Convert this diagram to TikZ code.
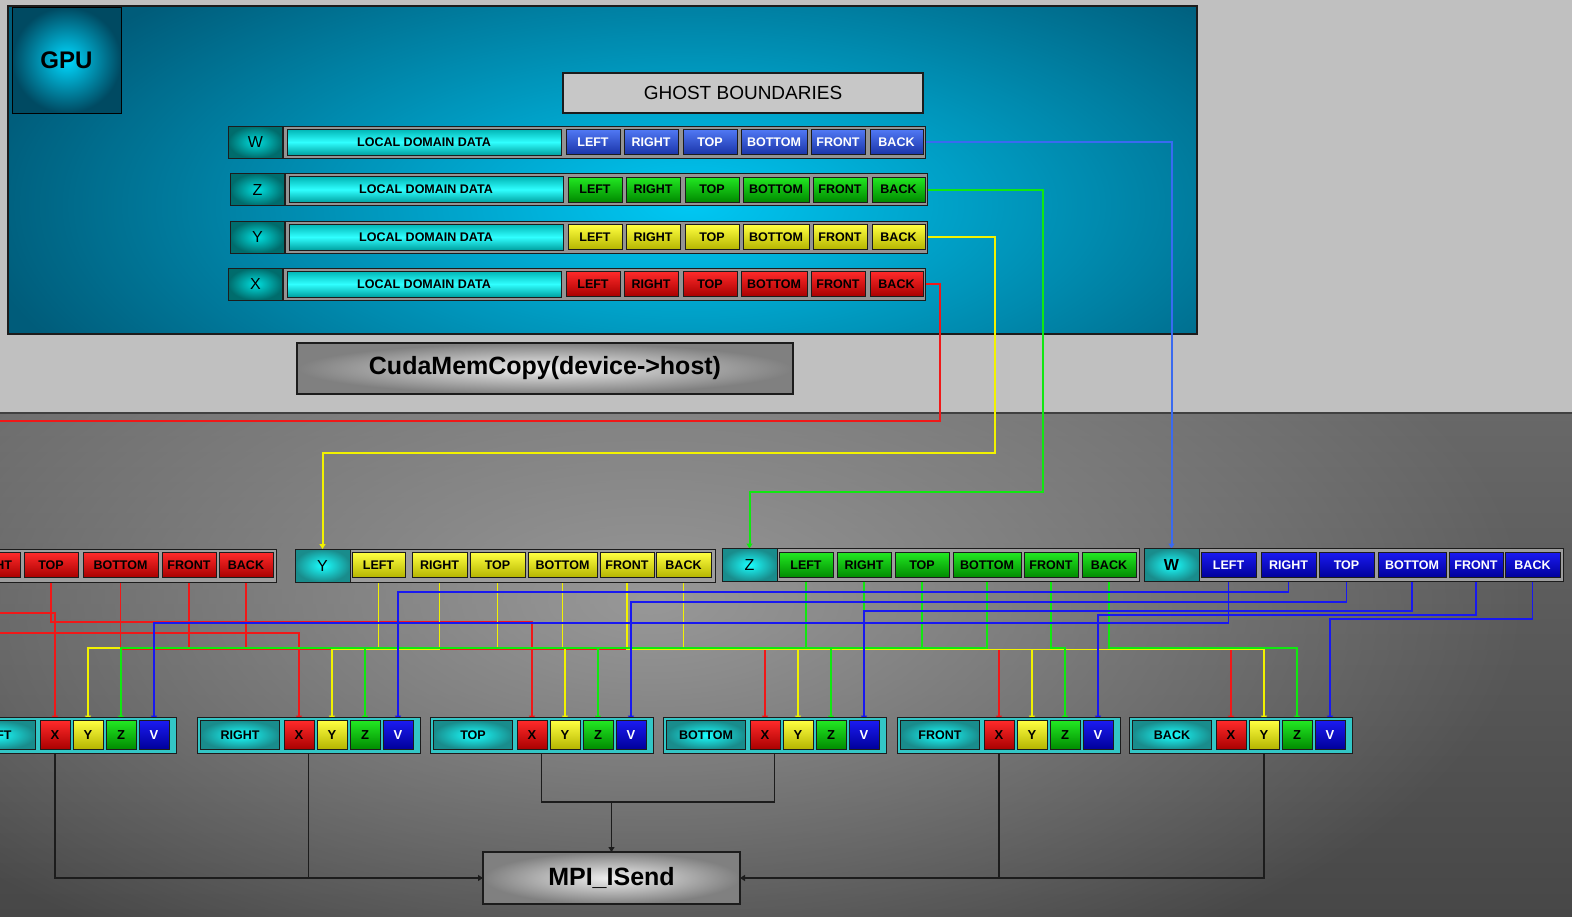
\documentclass[tikz,border=0pt]{standalone}
\usepackage{fontspec}
\setmainfont{Liberation Sans}
\usetikzlibrary{arrows.meta,fadings}

\definecolor{lightbg}{HTML}{C0C0C0}
\definecolor{darktop}{HTML}{686868}
\definecolor{darkbot}{HTML}{474747}
\definecolor{glowgray}{HTML}{989898}
\definecolor{panelbase}{HTML}{005C7A}
\definecolor{panelglow}{HTML}{00C8F4}
\definecolor{edge}{HTML}{1C1C1C}
\definecolor{tealfill}{HTML}{33C6C6}
% wire colours
\definecolor{wred}{HTML}{F01818}
\definecolor{wyel}{HTML}{F2F200}
\definecolor{wgrn}{HTML}{10E810}
\definecolor{wblu}{HTML}{1818F0}
\definecolor{wbluL}{HTML}{3A6AF0}
% button colours
\definecolor{redT}{HTML}{FF2A2A}\definecolor{redB}{HTML}{A80000}
\definecolor{yelT}{HTML}{FFFF40}\definecolor{yelB}{HTML}{B4B400}
\definecolor{grnT}{HTML}{22E822}\definecolor{grnB}{HTML}{008A00}
\definecolor{bluT}{HTML}{5078F4}\definecolor{bluB}{HTML}{1A34A8}
\definecolor{dbluT}{HTML}{1A1AF0}\definecolor{dbluB}{HTML}{00009A}
\definecolor{cyanT}{HTML}{00B4B4}\definecolor{cyanM}{HTML}{30FFFF}\definecolor{cyanB}{HTML}{00A0A0}

\tikzfading[name=softglow, inner color=transparent!0, outer color=transparent!100]

\pgfdeclarelayer{bg}
\pgfdeclarelayer{wires}
\pgfsetlayers{bg,wires,main}

\newcommand\fs[1]{\fontsize{#1}{#1}\selectfont}

\begin{document}
\begin{tikzpicture}[x=1pt,y=-1pt,
  every node/.style={inner sep=0pt, outer sep=0pt},
  btn/.style={draw=edge, line width=0.8pt, minimum height=25pt, font=\bfseries\fs{12.5}},
  rbtn/.style={btn, top color=redT, bottom color=redB, text=black},
  ybtn/.style={btn, top color=yelT, bottom color=yelB, text=black},
  gbtn/.style={btn, top color=grnT, bottom color=grnB, text=black},
  twbtn/.style={btn, top color=bluT, bottom color=bluB, text=white},
  mwbtn/.style={btn, top color=dbluT, bottom color=dbluB, text=white},
  ldd/.style={draw=edge, line width=0.8pt, top color=cyanT, bottom color=cyanB, middle color=cyanM, font=\bfseries\fs{12.5}},
  topbox/.style={draw=edge, line width=1pt, fill=black!42},
  midbox/.style={draw=edge, line width=1pt, fill=black!38, minimum height=33pt},
  botbox/.style={draw=edge, line width=1pt, fill=tealfill},
  toplab/.style={draw=edge, line width=1pt, shading=radial, inner color=cyan!75!teal, outer color=teal!85!black, font=\fs{16}},
  midlab/.style={draw=edge, line width=1pt, shading=radial, inner color=cyan!90!white, outer color=teal!90, minimum width=55pt, minimum height=33pt, font=\fs{16}},
  botlab/.style={draw=edge, line width=1pt, shading=radial, inner color=cyan!90!white, outer color=teal!90, font=\bfseries\fs{12.5}},
  sq/.style={draw=edge, line width=0.8pt, minimum width=30pt, minimum height=29pt, font=\bfseries\fs{13}},
  sqX/.style={sq, top color=redT, bottom color=redB},
  sqY/.style={sq, top color=yelT, bottom color=yelB},
  sqZ/.style={sq, top color=grnT, bottom color=grnB},
  sqV/.style={sq, top color=dbluT, bottom color=dbluB, text=white},
  greybox/.style={draw=edge, line width=1.2pt, shading=radial, inner color=white!94!black, outer color=black!50},
  tipS/.style={-{Triangle[length=5pt,width=6pt]}},
  wire/.style={line width=1.4pt, tipS},
  bwire/.style={line width=1.8pt, tipS},
  feed/.style={line width=2pt, tipS},
  kw/.style={draw=edge, line width=1.3pt}
]
\useasboundingbox (0,0) rectangle (1572,916);

% ---------- backgrounds ----------
\begin{pgfonlayer}{bg}
  \fill[lightbg] (0,0) rectangle (1572,413);
  \shade[top color=darktop, bottom color=darkbot] (0,413) rectangle (1572,916);
  \begin{scope}
    \clip (0,413) rectangle (1572,916);
    \fill[glowgray, path fading=softglow] (650,600) ellipse [x radius=880pt, y radius=420pt];
  \end{scope}
  \draw[black!75, line width=1.5pt] (0,413) -- (1572,413);
  % GPU panel
  \fill[panelbase] (8,6) rectangle (1197,334);
  \begin{scope}
    \clip (8,6) rectangle (1197,334);
    \fill[panelglow, path fading=softglow] (690,205) ellipse [x radius=720pt, y radius=300pt];
  \end{scope}
  \draw[edge, line width=1.5pt] (8,6) rectangle (1197,334);
\end{pgfonlayer}

% ---------- GPU side ----------
\node[draw=black, line width=1pt, shading=radial, inner color=cyan!85!blue, outer color=panelbase!80!black,
      minimum width=109pt, minimum height=106pt, font=\bfseries\fs{24}] (gpu) at (66.5,60) {GPU};
\node[draw=edge, line width=1.2pt, fill=black!22, minimum width=360pt, minimum height=40pt,
      font=\fs{19}] (ghost) at (743,93) {GHOST BOUNDARIES};

\foreach \r/\yy/\dx/\sty in {W/142/0/twbtn, Z/189.5/2/gbtn, Y/237/2/ybtn, X/284/0/rbtn}{
  \node[topbox, minimum width=642pt, minimum height=32pt] (t\r-row) at (604+\dx,\yy) {};
  \node[toplab, minimum width=54pt, minimum height=32pt] (t\r-lab) at (255.5+\dx,\yy) {\r};
  \node[ldd, minimum width=274pt, minimum height=26pt] (t\r-ldd) at (424+\dx,\yy) {LOCAL DOMAIN DATA};
  \foreach \n/\a/\b in {LEFT/566/620, RIGHT/624/678, TOP/683/737, BOTTOM/741/807, FRONT/811/865, BACK/870/923}
    \node[\sty, minimum width=\b-\a] (t\r-\n) at ({(\a+\b)/2+\dx},\yy) {\n};
}

\node[greybox, minimum width=496pt, minimum height=51pt, font=\bfseries\fs{25}] (copy) at (545,368.5) {CudaMemCopy(device->host)};

% ---------- host side: received ghost faces ----------
\node[midbox, minimum width=373pt] (mX-row) at (89.5,565.5) {};
\node[midlab] (mX-lab) at (-124.5,565.5) {X};
\foreach \n/\a/\b in {LEFT/-93/-40, RIGHT/-35/20, TOP/24/78, BOTTOM/83/158, FRONT/162/216, BACK/219/273}
  \node[rbtn, minimum width=\b-(\a)] (mX-\n) at ({(\a+\b)/2},565) {\n};

\node[midbox, minimum width=365pt] (mY-row) at (532.5,565.5) {};
\node[midlab] (mY-lab) at (322.5,565.5) {Y};
\foreach \n/\a/\b in {LEFT/352/405, RIGHT/412/467, TOP/470/525, BOTTOM/528/597, FRONT/600/654, BACK/656/711}
  \node[ybtn, minimum width=\b-\a] (mY-\n) at ({(\a+\b)/2},565) {\n};

\node[midbox, minimum width=362pt] (mZ-row) at (958,565) {};
\node[midlab] (mZ-lab) at (749.5,565) {Z};
\foreach \n/\a/\b in {LEFT/779/833, RIGHT/837/891, TOP/895/949, BOTTOM/953/1021, FRONT/1024/1078, BACK/1082/1136}
  \node[gbtn, minimum width=\b-\a] (mZ-\n) at ({(\a+\b)/2},565) {\n};

\node[midbox, minimum width=364pt] (mW-row) at (1381,565) {};
\node[midlab, font=\bfseries\fs{16}] (mW-lab) at (1171.5,565) {W};
\foreach \n/\a/\b in {LEFT/1201/1256, RIGHT/1261/1316, TOP/1319/1374, BOTTOM/1378/1446, FRONT/1449/1503, BACK/1505/1560}
  \node[mwbtn, minimum width=\b-\a] (mW-\n) at ({(\a+\b)/2},565) {\n};

% ---------- send buffers per face ----------
\foreach \g/\x in {LEFT/-47, RIGHT/197, TOP/430, BOTTOM/663, FRONT/897, BACK/1129}{
  \node[botbox, minimum width=223pt, minimum height=36pt] (b\g) at (\x+111.5,735) {};
  \node[botlab, minimum width=79pt, minimum height=29pt] (b\g-lab) at (\x+43,735) {\g};
  \node[sqX] (b\g-X) at (\x+102,735) {X};
  \node[sqY] (b\g-Y) at (\x+135,735) {Y};
  \node[sqZ] (b\g-Z) at (\x+168,735) {Z};
  \node[sqV] (b\g-V) at (\x+201,735) {V};
}

\node[greybox, minimum width=257pt, minimum height=52pt, font=\bfseries\fs{25}] (mpi) at (611.5,878) {MPI\_ISend};

% ---------- connectors ----------
\begin{pgfonlayer}{wires}
  % device -> host copies
  \draw[feed, wred] (tX-BACK.east) -| (940,421) -| (mX-lab.north);
  \draw[feed, wyel] (tY-BACK.east) -| (995,453) -| (mY-lab.north);
  \draw[feed, wgrn] (tZ-BACK.east) -| (1043,492) -| (mZ-lab.north);
  \draw[feed, wbluL] (tW-BACK.east) -| (mW-lab.north);

  % scatter of each component into the per-face buffers
  \foreach \n/\l in {LEFT/613, RIGHT/633, TOP/622, BOTTOM/649.5, FRONT/649.5, BACK/649.5}
    \draw[wire, wred] (mX-\n.south) -- (mX-\n.south |- 0,\l) -| (b\n-X.north);
  \foreach \n/\l in {LEFT/648, RIGHT/649.5, TOP/648, BOTTOM/648, FRONT/649.5, BACK/649.5}
    \draw[wire, wyel] (mY-\n.south) -- (mY-\n.south |- 0,\l) -| (b\n-Y.north);
  \foreach \n/\l in {LEFT/648, RIGHT/648, TOP/648, BOTTOM/648, FRONT/648, BACK/648}
    \draw[wire, wgrn] (mZ-\n.south) -- (mZ-\n.south |- 0,\l) -| (b\n-Z.north);
  \foreach \n/\l in {LEFT/623, RIGHT/592, TOP/602, BOTTOM/611, FRONT/615, BACK/619}
    \draw[bwire, wblu] (mW-\n.south) -- (mW-\n.south |- 0,\l) -| (b\n-V.north);

  % buffers -> MPI_ISend
  \coordinate (jTB) at (611.5,802);
  \draw[kw, tipS] (bLEFT-X.south |- bLEFT.south) |- (mpi.west);
  \draw[kw] (bRIGHT.south) -- (bRIGHT.south |- mpi.west);
  \draw[kw] (bTOP.south) |- (jTB) -| (bBOTTOM.south);
  \draw[kw, tipS] (jTB) -- (mpi.north);
  \draw[kw, tipS] (bBACK-Y.south |- bBACK.south) |- (mpi.east);
  \draw[kw] (bFRONT-X.south |- bFRONT.south) -- (bFRONT-X.south |- mpi.east);
\end{pgfonlayer}
\end{tikzpicture}
\end{document}
